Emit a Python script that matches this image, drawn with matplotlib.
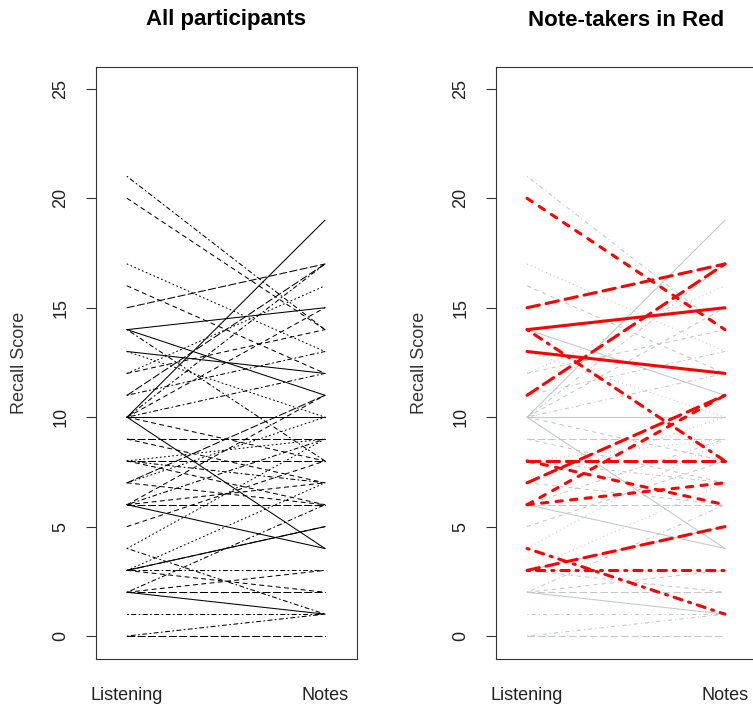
import numpy as np
import matplotlib
matplotlib.use("Agg")
import matplotlib.pyplot as plt

plt.rcParams['font.family'] = ['Liberation Sans', 'DejaVu Sans']

# recall scores per participant: listening condition, notes condition
listening = [20, 14, 15, 13, 11, 14, 8, 6, 7, 6, 8, 4, 3, 3,
             21, 17, 16, 14, 12, 10, 10, 10, 10, 10, 10, 9, 10, 8,
             8, 7, 7, 6, 6, 6, 5, 4, 3, 3, 3, 2, 2, 2, 2, 1, 0, 0,
             12, 13, 11, 9]
notes = [14, 15, 17, 12, 17, 8, 8, 11, 11, 7, 6, 1, 5, 3,
         14, 13, 12, 11, 14, 19, 10, 4, 8, 15, 12, 9, 17, 7,
         9, 6, 10, 6, 4, 9, 8, 9, 5, 2, 7, 1, 2, 6, 3, 1, 0, 1,
         16, 10, 13, 7]
# first 14 participants took notes
took_notes = [True] * 14 + [False] * 36

conditions = ["Listening", "Notes"]
titles = ["All participants", "Note-takers in Red"]

# R style line types (1 solid, 2 dashed, 3 dotted, 4 dotdash, 5 longdash)
line_types = [2, 1, 5, 1, 5, 4, 5, 2, 5, 2, 2, 4, 5, 4,
              4, 3, 2, 1, 2, 1, 1, 1, 2, 2, 4, 5, 4, 4,
              3, 2, 3, 5, 1, 4, 2, 3, 1, 2, 3, 1, 5, 4, 2, 4, 5, 4,
              3, 3, 4, 2]
dash_map = {1: '-', 2: (0, (4, 4)), 3: (0, (1, 3)), 4: (0, (1, 3, 4, 3)), 5: (0, (7, 3))}
# patterns for the thick red lines, in points (not scaled by width)
red_dash_map = {1: '-', 2: (0, (4.5, 6)), 3: (0, (1, 5)),
                4: (0, (1.5, 5, 6, 5)), 5: (0, (9, 5))}

fig = plt.figure(figsize=(7.53, 7.07), dpi=100)
W, H = 753, 707


def make_axes(x0):
    ax = fig.add_axes([x0 / W, (H - 659) / H, 261 / W, 592 / H])
    ax.set_xlim(0.843, 2.162)
    ax.set_ylim(-1.05, 26.0)
    ax.set_yticks([0, 5, 10, 15, 20, 25])
    ax.set_xticks([1, 2])
    ax.set_xticklabels(conditions, fontsize=13, color='#222222')
    ax.tick_params(axis='x', length=0, pad=20)
    ax.tick_params(axis='y', length=7, width=0.8, pad=12, labelsize=13,
                   labelcolor='#222222', color='#333333')
    for lab in ax.get_yticklabels():
        lab.set_rotation(90)
        lab.set_va('center')
    for s in ax.spines.values():
        s.set_linewidth(0.8)
        s.set_color('#333333')
    ax.set_ylabel("Recall Score", fontsize=13, color='#333333', labelpad=18)
    return ax


x = [1, 2]

ax1 = make_axes(96)
for a, b, lt in zip(listening, notes, line_types):
    ax1.plot(x, [a, b], color='black', lw=0.75, linestyle=dash_map[lt],
             dash_capstyle='round')

ax2 = make_axes(496)
for a, b, lt, nt in zip(listening, notes, line_types, took_notes):
    if not nt:
        ax2.plot(x, [a, b], color='#c2c7c7', lw=0.75, linestyle=dash_map[lt])

plt.rcParams['lines.scale_dashes'] = False
for a, b, lt, nt in zip(listening, notes, line_types, took_notes):
    if nt:
        ax2.plot(x, [a, b], color='#ff0000', lw=2.2, linestyle=red_dash_map[lt],
                 dash_capstyle='round', solid_capstyle='round', zorder=3)

fig.text(226 / W, 1 - 20 / H, titles[0], ha='center', va='center',
         fontsize=16, fontweight='bold')
fig.text(626 / W, 1 - 20 / H, titles[1], ha='center', va='center',
         fontsize=16, fontweight='bold')

fig.savefig("out.png", dpi=100)
